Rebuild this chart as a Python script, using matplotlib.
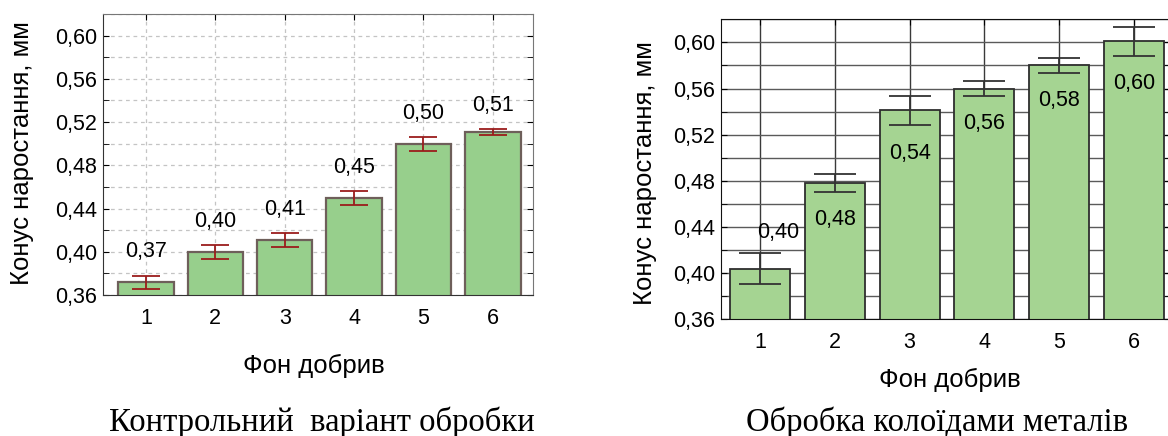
import numpy as np
import matplotlib
matplotlib.use("Agg")
from matplotlib import pyplot as plt
from matplotlib.ticker import MultipleLocator, FuncFormatter

plt.rcParams['font.family'] = ['Liberation Sans', 'DejaVu Sans']

# categories (фон добрив)
cats = [1, 2, 3, 4, 5, 6]

# control variant
ctrl_vals = [0.372, 0.400, 0.411, 0.450, 0.500, 0.511]
ctrl_err = [0.006, 0.0065, 0.0065, 0.0063, 0.0065, 0.0025]
ctrl_lbl = ['0,37', '0,40', '0,41', '0,45', '0,50', '0,51']

# colloid metal treatment
coll_vals = [0.404, 0.478, 0.541, 0.560, 0.580, 0.601]
coll_err = [0.0133, 0.0077, 0.0128, 0.0064, 0.0064, 0.0127]
coll_lbl = ['0,40', '0,48', '0,54', '0,56', '0,58', '0,60']

ylab = 'Конус наростання, мм'
xlab = 'Фон добрив'
cap_left = 'Контрольний  варіант обробки'
cap_right = 'Обробка колоїдами металів'

W, H = 1168, 436
fig = plt.figure(figsize=(W / 100, H / 100), dpi=100)

fmt = FuncFormatter(lambda v, p: f'{v:.2f}'.replace('.', ','))


def setup(ax, xlim):
    ax.set_xlim(*xlim)
    ax.set_ylim(0.36, 0.62)
    ax.set_xticks(cats)
    ax.yaxis.set_major_locator(MultipleLocator(0.04))
    ax.yaxis.set_minor_locator(MultipleLocator(0.02))
    ax.yaxis.set_major_formatter(fmt)
    ax.tick_params(axis='both', which='both', direction='in',
                   top=True, right=True, labelsize=15.5, length=4)
    ax.tick_params(axis='x', pad=9)
    ax.tick_params(axis='y', pad=4)
    ax.set_axisbelow(True)


# ---- left panel
ax1 = fig.add_axes([103 / W, 1 - 295 / H, 430 / W, 281 / H])
setup(ax1, (0.38, 6.58))
ax1.grid(True, which='both', axis='y', color='#c4c4c4', ls=(0, (3, 3)), lw=0.9)
ax1.grid(True, which='major', axis='x', color='#c4c4c4', ls=(0, (3, 3)), lw=0.9)
ax1.bar(cats, ctrl_vals, width=0.8, bottom=0, color='#97cf8c',
        edgecolor='#6e5f5a', linewidth=1.6)
ax1.errorbar(cats, ctrl_vals, yerr=ctrl_err, fmt='none', ecolor='#9b1c1c',
             elinewidth=1.3, capsize=10, capthick=1.3)
for x, v, e, t in zip(cats, ctrl_vals, ctrl_err, ctrl_lbl):
    ax1.annotate(t, (x, v + e), xytext=(0, 17), textcoords='offset points',
                 ha='center', va='center', fontsize=15.5)
for s in ['top', 'right']:
    ax1.spines[s].set_color('#777777')
for s in ['left', 'bottom']:
    ax1.spines[s].set_color('#333333')
ax1.set_ylabel(ylab, fontsize=18.5, va='center')
ax1.yaxis.set_label_coords(-0.188, 0.505)
ax1.set_xlabel(xlab, fontsize=18.5, va='center')
ax1.xaxis.set_label_coords(0.49, -0.253)

# ---- right panel
ax2 = fig.add_axes([721 / W, 1 - 319.3 / H, 449 / W, 300 / H])
setup(ax2, (0.48, 6.48))
ax2.grid(True, which='both', axis='y', color='#5a5a5a', ls='-', lw=1.0)
ax2.grid(True, which='major', axis='x', color='#3a3a3a', ls='-', lw=1.0)
ax2.bar(cats, coll_vals, width=0.8, color='#a5d492',
        edgecolor='#2e2e2e', linewidth=1.3)
ax2.errorbar(cats, coll_vals, yerr=coll_err, fmt='none', ecolor='#333333',
             elinewidth=1.3, capsize=15, capthick=1.3)
for i, (x, v, e, t) in enumerate(zip(cats, coll_vals, coll_err, coll_lbl)):
    if i == 0:
        ax2.annotate(t, (x, v + e), xytext=(13, 15), textcoords='offset points',
                     ha='center', va='center', fontsize=15.5)
    else:
        ax2.annotate(t, (x, v - e), xytext=(0, -20), textcoords='offset points',
                     ha='center', va='center', fontsize=15.5)
for s in ax2.spines.values():
    s.set_color('#111111')
ax2.set_ylabel(ylab, fontsize=18.5, va='center')
ax2.yaxis.set_label_coords(-0.169, 0.489)
ax2.set_xlabel(xlab, fontsize=18.5, va='center')
ax2.xaxis.set_label_coords(0.51, -0.202)

# ---- captions
fig.text(322 / W, 1 - 431 / H, cap_left, family='Liberation Serif',
         fontsize=23.5, ha='center', va='baseline')
fig.text(937 / W, 1 - 431 / H, cap_right, family='Liberation Serif',
         fontsize=23.5, ha='center', va='baseline')

fig.savefig('out.png', dpi=100)
plt.close(fig)
